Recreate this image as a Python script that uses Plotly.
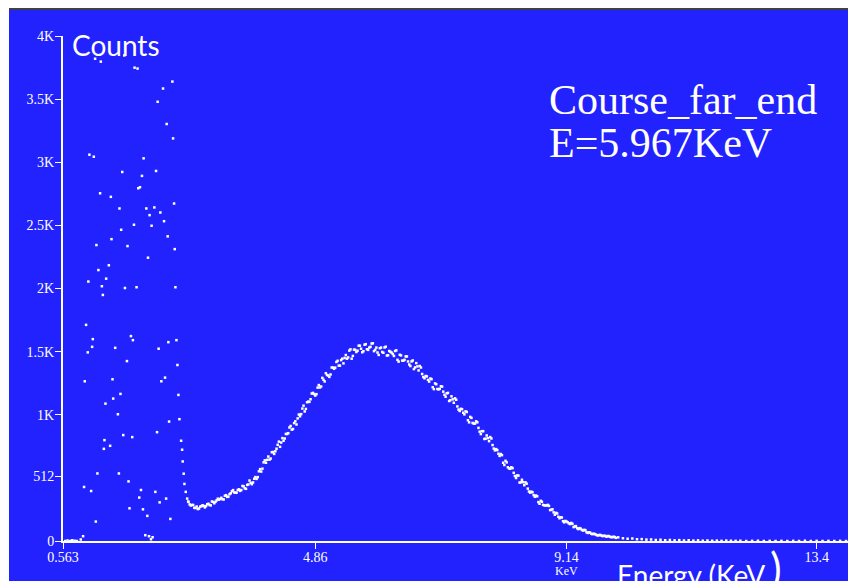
import plotly.graph_objects as go

# ---------------- data ----------------
# low-energy noise region (Energy KeV, Counts)
noise_e = [1.110, 1.207, 1.782, 1.833, 2.426, 2.267, 2.175, 2.329, 2.438, 1.013,
           1.088, 1.936, 1.572, 2.148, 1.908, 1.874, 1.845, 1.195, 1.378, 2.455,
           1.525, 1.982, 2.119, 2.038, 2.221, 2.284, 1.772, 2.072, 1.554, 1.389,
           2.346, 1.132, 1.662, 2.466, 2.011, 1.344, 1.166, 1.298, 0.995, 1.225,
           1.618, 1.816, 2.478, 1.606, 1.242, 0.956, 1.071, 1.059, 0.985, 1.720,
           1.754, 1.452, 2.192, 2.358, 1.652, 1.406, 2.238, 2.301, 0.934, 1.542,
           1.418, 1.286, 1.498, 2.370, 2.165, 1.589, 1.742, 1.269, 1.366, 1.259,
           1.149, 1.515, 0.922, 1.042, 1.679, 1.891, 2.136, 1.862, 2.319, 2.209,
           1.696, 1.925, 1.999, 2.392, 1.122, 0.905, 1.965, 2.028, 2.089, 2.062,
           0.866, 0.600, 0.640, 0.680, 0.720, 0.760, 0.800]
noise_c = [3820, 3797, 3749, 3742, 3639, 3584, 3479, 3303, 3189, 3060,
           3044, 3031, 2923, 2931, 2892, 2802, 2794, 2754, 2726, 2673,
           2634, 2634, 2642, 2581, 2602, 2533, 2505, 2497, 2465, 2391,
           2413, 2344, 2336, 2312, 2244, 2184, 2146, 2078, 2055, 2018,
           2004, 2010, 2010, 3846, 1949, 1712, 1599, 1538, 1494, 1623,
           1591, 1530, 1523, 1575, 1425, 1281, 1265, 1294, 1265, 1165,
           1128, 1088, 1004, 946, 862, 839, 823, 799, 754, 730,
           535, 535, 428, 396, 472, 404, 389, 344, 336, 306,
           259, 251, 199, 175, 154, 38, 46, 38, 30, 14,
           12, 0, 4, 0, 6, 2, 0]

# steep falling edge
edge_e = [2.495, 2.512, 2.529, 2.546, 2.575, 2.592, 2.602, 2.619, 2.631, 2.654, 2.678, 2.695]
edge_c = [1591, 1394, 1157, 965, 794, 723, 630, 533, 452, 389, 336, 312]

# main peak, first strand of channels
peak_e = [2.70, 2.74, 2.78, 2.82, 2.86, 2.90, 2.94, 2.98, 3.02, 3.06,
          3.10, 3.14, 3.18, 3.22, 3.26, 3.30, 3.34, 3.38, 3.42, 3.46,
          3.50, 3.54, 3.58, 3.62, 3.66, 3.70, 3.74, 3.78, 3.82, 3.86,
          3.90, 3.94, 3.98, 4.02, 4.06, 4.10, 4.14, 4.18, 4.22, 4.26,
          4.30, 4.34, 4.38, 4.42, 4.46, 4.50, 4.54, 4.58, 4.62, 4.66,
          4.70, 4.74, 4.78, 4.82, 4.86, 4.90, 4.94, 4.98, 5.02, 5.06,
          5.10, 5.14, 5.18, 5.22, 5.26, 5.30, 5.34, 5.38, 5.42, 5.46,
          5.50, 5.54, 5.58, 5.62, 5.66, 5.70, 5.74, 5.78, 5.82, 5.86,
          5.90, 5.94, 5.98, 6.02, 6.06, 6.10, 6.14, 6.18, 6.22, 6.26,
          6.30, 6.34, 6.38, 6.42, 6.46, 6.50, 6.54, 6.58, 6.62, 6.66,
          6.70, 6.74, 6.78, 6.82, 6.86, 6.90, 6.94, 6.98, 7.02, 7.06,
          7.10, 7.14, 7.18, 7.22, 7.26, 7.30, 7.34, 7.38, 7.42, 7.46,
          7.50, 7.54, 7.58, 7.62, 7.66, 7.70, 7.74, 7.78, 7.82, 7.86,
          7.90, 7.94, 7.98, 8.02, 8.06, 8.10, 8.14, 8.18, 8.22, 8.26,
          8.30, 8.34, 8.38, 8.42, 8.46, 8.50, 8.54, 8.58, 8.62, 8.66,
          8.70, 8.74, 8.78, 8.82, 8.86, 8.90, 8.94, 8.98, 9.02, 9.06,
          9.10, 9.14, 9.18, 9.22, 9.26, 9.30, 9.34, 9.38, 9.42, 9.46,
          9.50, 9.54, 9.58, 9.62, 9.66, 9.70, 9.74, 9.78, 9.82, 9.86,
          9.90, 9.94, 9.98, 10.02]
peak_c = [310, 281, 285, 261, 253, 272, 283, 266, 291, 285,
          313, 299, 322, 327, 342, 329, 363, 351, 378, 403,
          382, 404, 397, 436, 417, 444, 479, 450, 493, 492,
          552, 550, 623, 620, 669, 653, 705, 711, 762, 746,
          815, 812, 848, 899, 882, 934, 923, 1002, 1005, 1072,
          1046, 1104, 1123, 1173, 1152, 1215, 1216, 1292, 1264, 1315,
          1300, 1374, 1364, 1418, 1389, 1433, 1407, 1473, 1454, 1518,
          1466, 1514, 1507, 1547, 1495, 1555, 1519, 1532, 1564, 1504,
          1532, 1474, 1532, 1491, 1539, 1471, 1499, 1481, 1505, 1435,
          1475, 1429, 1435, 1462, 1398, 1422, 1362, 1409, 1351, 1374,
          1299, 1307, 1276, 1287, 1218, 1248, 1204, 1205, 1223, 1158,
          1170, 1109, 1146, 1095, 1119, 1041, 1047, 1016, 1027, 957,
          983, 935, 930, 940, 866, 870, 808, 836, 791, 812,
          732, 728, 691, 689, 620, 635, 584, 572, 577, 515,
          519, 463, 485, 442, 454, 392, 391, 363, 360, 308,
          318, 286, 281, 286, 245, 251, 208, 218, 180, 186,
          148, 154, 140, 143, 110, 118, 94, 98, 83, 86,
          64, 67, 54, 55, 45, 48, 41, 42, 34, 39,
          31, 34, 25, 29]

# main peak, interleaved channels
peak2_e = [2.72, 2.76, 2.80, 2.84, 2.88, 2.92, 2.96, 3.00, 3.04, 3.08,
           3.12, 3.16, 3.20, 3.24, 3.28, 3.32, 3.36, 3.40, 3.44, 3.48,
           3.52, 3.56, 3.60, 3.64, 3.68, 3.72, 3.76, 3.80, 3.84, 3.88,
           3.92, 3.96, 4.00, 4.04, 4.08, 4.12, 4.16, 4.20, 4.24, 4.28,
           4.32, 4.36, 4.40, 4.44, 4.48, 4.52, 4.56, 4.60, 4.64, 4.68,
           4.72, 4.76, 4.80, 4.84, 4.88, 4.92, 4.96, 5.00, 5.04, 5.08,
           5.12, 5.16, 5.20, 5.24, 5.28, 5.32, 5.36, 5.40, 5.44, 5.48,
           5.52, 5.56, 5.60, 5.64, 5.68, 5.72, 5.76, 5.80, 5.84, 5.88,
           5.92, 5.96, 6.00, 6.04, 6.08, 6.12, 6.16, 6.20, 6.24, 6.28,
           6.32, 6.36, 6.40, 6.44, 6.48, 6.52, 6.56, 6.60, 6.64, 6.68,
           6.72, 6.76, 6.80, 6.84, 6.88, 6.92, 6.96, 7.00, 7.04, 7.08,
           7.12, 7.16, 7.20, 7.24, 7.28, 7.32, 7.36, 7.40, 7.44, 7.48,
           7.52, 7.56, 7.60, 7.64, 7.68, 7.72, 7.76, 7.80, 7.84, 7.88,
           7.92, 7.96, 8.00, 8.04, 8.08, 8.12, 8.16, 8.20, 8.24, 8.28,
           8.32, 8.36, 8.40, 8.44, 8.48, 8.52, 8.56, 8.60, 8.64, 8.68,
           8.72, 8.76, 8.80, 8.84, 8.88, 8.92, 8.96, 9.00, 9.04, 9.08,
           9.12, 9.16, 9.20, 9.24, 9.28, 9.32, 9.36, 9.40, 9.44, 9.48,
           9.52, 9.56, 9.60, 9.64, 9.68, 9.72, 9.76, 9.80, 9.84, 9.88,
           9.92, 9.96]
peak2_c = [290, 286, 263, 273, 257, 276, 277, 277, 295, 282,
           309, 310, 335, 333, 331, 358, 349, 371, 394, 385,
           383, 409, 404, 433, 413, 448, 460, 464, 506, 506,
           569, 573, 639, 643, 644, 703, 690, 731, 787, 780,
           794, 848, 854, 911, 887, 948, 971, 988, 1049, 1026,
           1099, 1102, 1168, 1164, 1163, 1235, 1224, 1277, 1329, 1311,
           1319, 1374, 1373, 1427, 1389, 1444, 1450, 1444, 1508, 1444,
           1516, 1497, 1547, 1523, 1503, 1559, 1514, 1538, 1566, 1514,
           1493, 1527, 1497, 1533, 1469, 1505, 1492, 1466, 1510, 1421,
           1470, 1428, 1462, 1422, 1386, 1430, 1375, 1383, 1386, 1323,
           1289, 1304, 1263, 1282, 1203, 1242, 1201, 1226, 1183, 1143,
           1173, 1115, 1122, 1130, 1066, 1030, 1044, 1003, 1022, 940,
           975, 930, 948, 896, 847, 870, 810, 815, 823, 760,
           718, 720, 674, 680, 602, 623, 575, 584, 540, 499,
           518, 465, 466, 465, 415, 383, 386, 350, 354, 295,
           311, 283, 281, 278, 247, 227, 223, 192, 188, 157,
           159, 148, 134, 136, 115, 101, 102, 88, 88, 70,
           68, 58, 58, 51, 44, 47, 39, 40, 39, 33,
           30, 31]

# high-energy tail
tail_e = [10.10, 10.18, 10.26, 10.34, 10.42, 10.50, 10.58, 10.66, 10.74, 10.82,
          10.90, 10.98, 11.06, 11.14, 11.22, 11.30, 11.38, 11.46, 11.54, 11.62,
          11.70, 11.78, 11.86, 11.94, 12.02, 12.10, 12.20, 12.30, 12.40, 12.50,
          12.60, 12.70, 12.80, 12.90, 13.00, 13.10, 13.20, 13.30, 13.40, 13.50,
          13.60, 13.70, 13.80, 13.90, 14.00]
tail_c = [22, 18, 20, 14, 15, 11, 12, 8, 10, 6,
          8, 5, 7, 4, 6, 3, 5, 2, 4, 2,
          3, 1, 3, 2, 1, 2, 0, 1, 2, 0,
          1, 0, 1, 0, 1, 0, 2, 0, 1, 0,
          1, 0, 1, 0, 1]

x_tick_vals = [0.563, 4.86, 9.14, 13.4]
x_tick_text = ["0.563", "4.86", "9.14", "13.4"]
x_unit_label = "KeV"
y_tick_vals = [0, 512, 1000, 1500, 2000, 2500, 3000, 3500, 4000]
y_tick_text = ["0", "512", "1K", "1.5K", "2K", "2.5K", "3K", "3.5K", "4K"]

title_line1 = "Course_far_end"
title_line2 = "E=5.967KeV"

# ---------------- figure ----------------
OFF = 8                      # page body margin: figure sits at (8, 8)
W, H = 856 - OFF, 581 - OFF
ML, MR, MT, MB = 55, 0, 28, 40
PW, PH = W - ML - MR, H - MT - MB
BLUE = "#2222ff"


def px(x):
    """page pixel x -> paper coordinate"""
    return (x - OFF - ML) / PW


def py(y):
    """page pixel y -> paper coordinate"""
    return (H - MB - (y - OFF)) / PH


all_e = noise_e + edge_e + peak_e + peak2_e + tail_e
all_c = noise_c + edge_c + peak_c + peak2_c + tail_c

fig = go.Figure()
fig.add_trace(go.Scatter(
    x=all_e, y=all_c, mode="markers",
    marker=dict(symbol="square", size=2.5, color="white", line=dict(width=0)),
    hoverinfo="skip", showlegend=False, cliponaxis=False,
))

tick_font = dict(family="Liberation Serif, Times New Roman, serif", size=14, color="white")

fig.update_layout(
    width=W, height=H,
    margin=dict(l=ML, r=MR, t=MT, b=MB, pad=0, autoexpand=False),
    paper_bgcolor=BLUE, plot_bgcolor=BLUE,
    showlegend=False,
    xaxis=dict(range=[0.563, 14.07], showgrid=False, zeroline=False, automargin=False,
               showline=True, linecolor="white", linewidth=2,
               ticks="outside", ticklen=6, tickwidth=1, tickcolor="white",
               tickvals=x_tick_vals, ticktext=x_tick_text, tickfont=tick_font,
               ticklabelstandoff=-4, fixedrange=True),
    yaxis=dict(range=[0, 4000], showgrid=False, zeroline=False, automargin=False,
               showline=True, linecolor="white", linewidth=2,
               ticks="outside", ticklen=6, tickwidth=1, tickcolor="white",
               tickvals=y_tick_vals, ticktext=y_tick_text, tickfont=tick_font,
               ticklabelstandoff=-2, fixedrange=True),
    shapes=[
        # thin white strip on the left and dark grey line at the top of the screenshot
        dict(type="rect", xref="paper", yref="paper", x0=px(OFF - 2), x1=px(9), y0=py(H + OFF + 2), y1=py(OFF - 2),
             fillcolor="white", line=dict(width=0), layer="above"),
        dict(type="rect", xref="paper", yref="paper", x0=px(9), x1=px(860), y0=py(10), y1=py(OFF - 1),
             fillcolor="#404040", line=dict(width=0), layer="above"),
    ],
    annotations=[
        dict(text="Counts", xref="paper", yref="paper", x=px(70), y=py(26),
             xanchor="left", yanchor="top", showarrow=False,
             font=dict(family="Lato, Open Sans, sans-serif", size=28, color="white")),
        dict(text=title_line1, xref="paper", yref="paper", x=px(547), y=py(100),
             xanchor="left", yanchor="middle", showarrow=False,
             font=dict(family="Liberation Serif, serif", size=42, color="white")),
        dict(text=title_line2, xref="paper", yref="paper", x=px(547), y=py(143),
             xanchor="left", yanchor="middle", showarrow=False,
             font=dict(family="Liberation Serif, serif", size=42, color="white")),
        dict(text=x_unit_label, xref="x", yref="paper", x=9.14, y=py(571),
             xanchor="center", yanchor="middle", showarrow=False,
             font=dict(family="Liberation Serif, serif", size=12, color="white")),
        dict(text="Energy (KeV", xref="paper", yref="paper", x=px(615), y=py(556),
             xanchor="left", yanchor="top", showarrow=False,
             font=dict(family="Lato, Open Sans, sans-serif", size=28, color="white")),
        dict(text=")", xref="paper", yref="paper", x=px(768), y=py(540),
             xanchor="left", yanchor="top", showarrow=False,
             font=dict(family="Lato, Open Sans, sans-serif", size=44, color="white")),
    ],
)

fig.write_html("out.html", include_plotlyjs=True, full_html=True,
               config=dict(displayModeBar=False, staticPlot=True))
